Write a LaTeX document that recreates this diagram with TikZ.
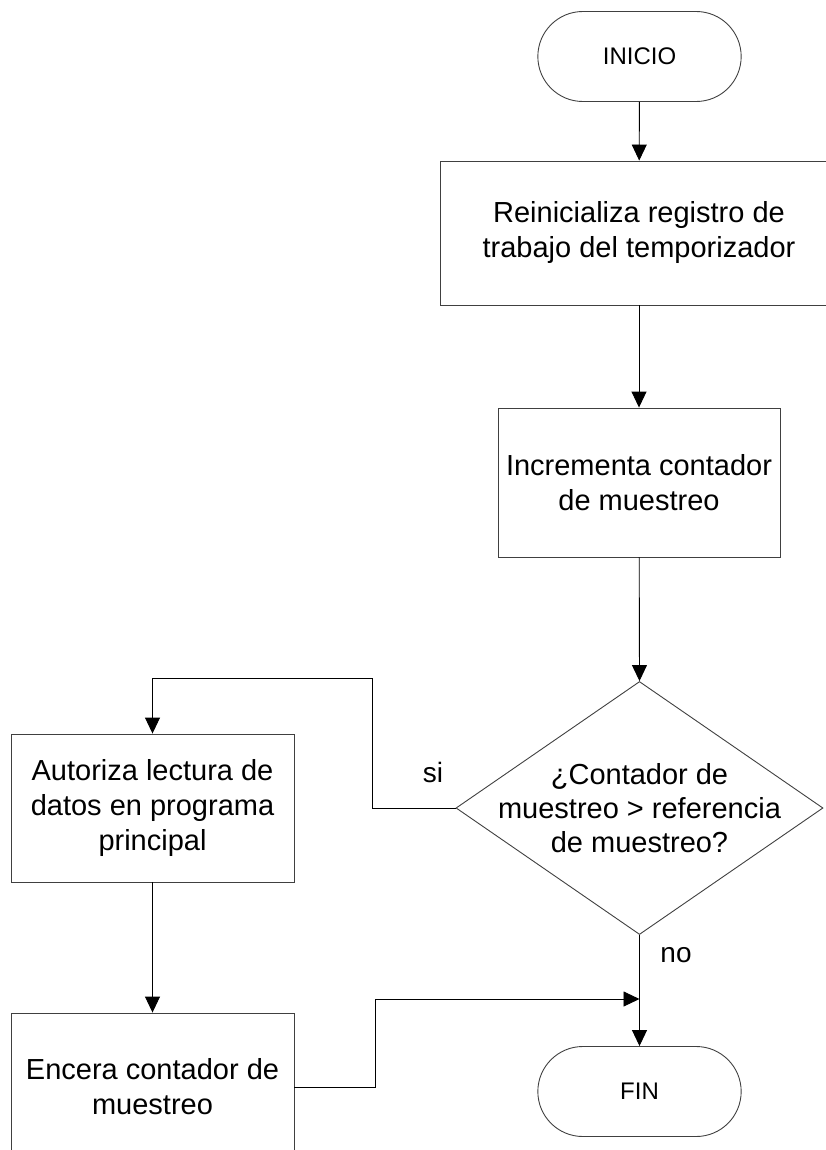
\documentclass[tikz,border=0pt]{standalone}
\usepackage{fontspec}
\setmainfont{Liberation Sans}
\usetikzlibrary{shapes.geometric,shapes.misc,arrows.meta}

\tikzset{
  flecha/.style={-{Triangle[length=16pt,width=15pt]}, line width=0.9pt},
  terminal/.style={draw=black!75, line width=0.9pt, rounded rectangle, minimum width=210pt, minimum height=90pt, font=\fontsize{24}{28}\selectfont},
  proceso/.style={draw=black!75, line width=0.9pt, rectangle, align=center, font=\fontsize{29}{35}\selectfont},
  decision/.style={draw=black!75, line width=0.9pt, diamond, inner sep=0pt, minimum width=367pt, minimum height=253pt},
  texto/.style={align=center, font=\fontsize{29}{34}\selectfont},
  etiqueta/.style={font=\fontsize{28}{34}\selectfont}
}

\begin{document}
\begin{tikzpicture}[x=1pt, y=-1pt]
        \useasboundingbox (0,0) rectangle (826,1150);
        % bloques
        \node[terminal] (inicio) at (639.5,56.5) {INICIO};
        \node[proceso, minimum width=398pt, minimum height=144pt] (reinicia) at (639,233) {Reinicializa registro de\\trabajo del temporizador};
        \node[proceso, minimum width=282pt, minimum height=149pt] (incrementa) at (639,482.5) {Incrementa contador\\de muestreo};
        \node[decision] (cond) at (639.5,808) {};
        \node[texto] (condtxt) at (639.5,808) {¿Contador de\\muestreo > referencia\\de muestreo?};
        \node[proceso, minimum width=283pt, minimum height=148pt] (autoriza) at (152.5,808) {Autoriza lectura de\\datos en programa\\principal};
        \node[proceso, minimum width=283pt, minimum height=148pt] (encera) at (152.5,1087) {Encera contador de\\muestreo};
        \node[terminal] (fin) at (639.5,1091.5) {FIN};
        % esquinas
        \coordinate (siup) at (372,678);
        \coordinate (codo) at (375,999);
        \coordinate (junta) at (639.5,999);
        % flechas
        \draw[flecha] (inicio) -- (reinicia);
        \draw[flecha] (reinicia) -- (incrementa);
        \draw[flecha] (incrementa) -- (cond.north);
        \draw[flecha] (cond.west) -| (siup) -| (autoriza.north);
        \draw[flecha] (autoriza) -- (encera);
        \draw[flecha] (cond.south) -- (fin.north);
        \draw[flecha] (encera.east) -| (codo) -- (junta);
        % etiquetas
        \node[etiqueta] (si) at (433,772) {si};
        \node[etiqueta] (no) at (676,955) {no};
    \end{tikzpicture}
\end{document}
